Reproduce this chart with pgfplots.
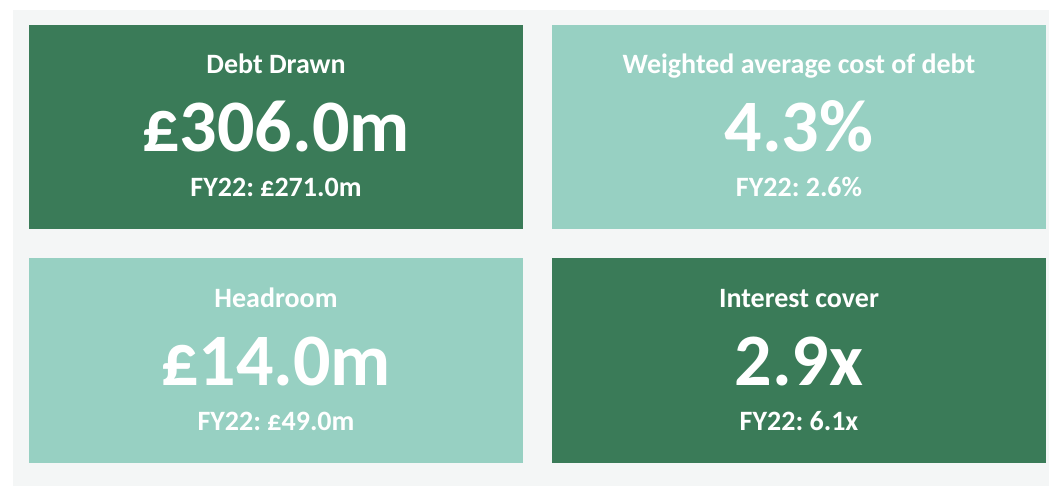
\documentclass[border=0pt]{standalone}
\usepackage{pgfplots}
\pgfplotsset{compat=1.18}
\usepackage{fontspec}
\setmainfont{Carlito}
\frenchspacing
\definecolor{darkg}{HTML}{3A7B58}
\definecolor{lightg}{HTML}{97D0C2}
\definecolor{bgg}{HTML}{F4F6F6}
\tikzset{
  ttl/.style={anchor=base, text=white, font=\fontsize{14}{16}\selectfont\bfseries},
  val/.style={anchor=base, text=white, font=\fontsize{37}{40}\selectfont\bfseries},
  prv/.style={anchor=base, text=white, font=\fontsize{14}{16}\selectfont\bfseries},
}
\begin{document}
\begin{tikzpicture}
\begin{axis}[
  width=524.5pt, height=243pt, scale only axis,
  xmin=0, xmax=1049, ymin=0, ymax=486, y dir=reverse,
  hide axis, clip=false,
]
% page background
\addplot[fill=white, draw=none] coordinates {(0,0) (1049,0) (1049,486) (0,486)} -- cycle;
\addplot[fill=bgg, draw=none] coordinates {(13,10) (1049,10) (1049,486) (13,486)} -- cycle;
% tiles
\addplot[fill=darkg, draw=none] coordinates {(29,25) (523,25) (523,229) (29,229)} -- cycle;
\addplot[fill=lightg, draw=none] coordinates {(552,25) (1046,25) (1046,229) (552,229)} -- cycle;
\addplot[fill=lightg, draw=none] coordinates {(29,258) (523,258) (523,463) (29,463)} -- cycle;
\addplot[fill=darkg, draw=none] coordinates {(552,258) (1046,258) (1046,463) (552,463)} -- cycle;
% tile 1
\node[ttl] at (axis cs:276,74) {Debt Drawn};
\node[val] at (axis cs:276,152) {£306.0m};
\node[prv] at (axis cs:276,197) {FY22: £271.0m};
% tile 2
\node[ttl] at (axis cs:799,74) {Weighted average cost of debt};
\node[val] at (axis cs:799,152) {4.3\%};
\node[prv] at (axis cs:799,197) {FY22: 2.6\%};
% tile 3
\node[ttl] at (axis cs:276,307) {Headroom};
\node[val] at (axis cs:276,385) {£14.0m};
\node[prv] at (axis cs:276,430) {FY22: £49.0m};
% tile 4
\node[ttl] at (axis cs:799,307) {Interest cover};
\node[val] at (axis cs:799,385) {2.9x};
\node[prv] at (axis cs:799,430) {FY22: 6.1x};
\end{axis}
\end{tikzpicture}
\end{document}
